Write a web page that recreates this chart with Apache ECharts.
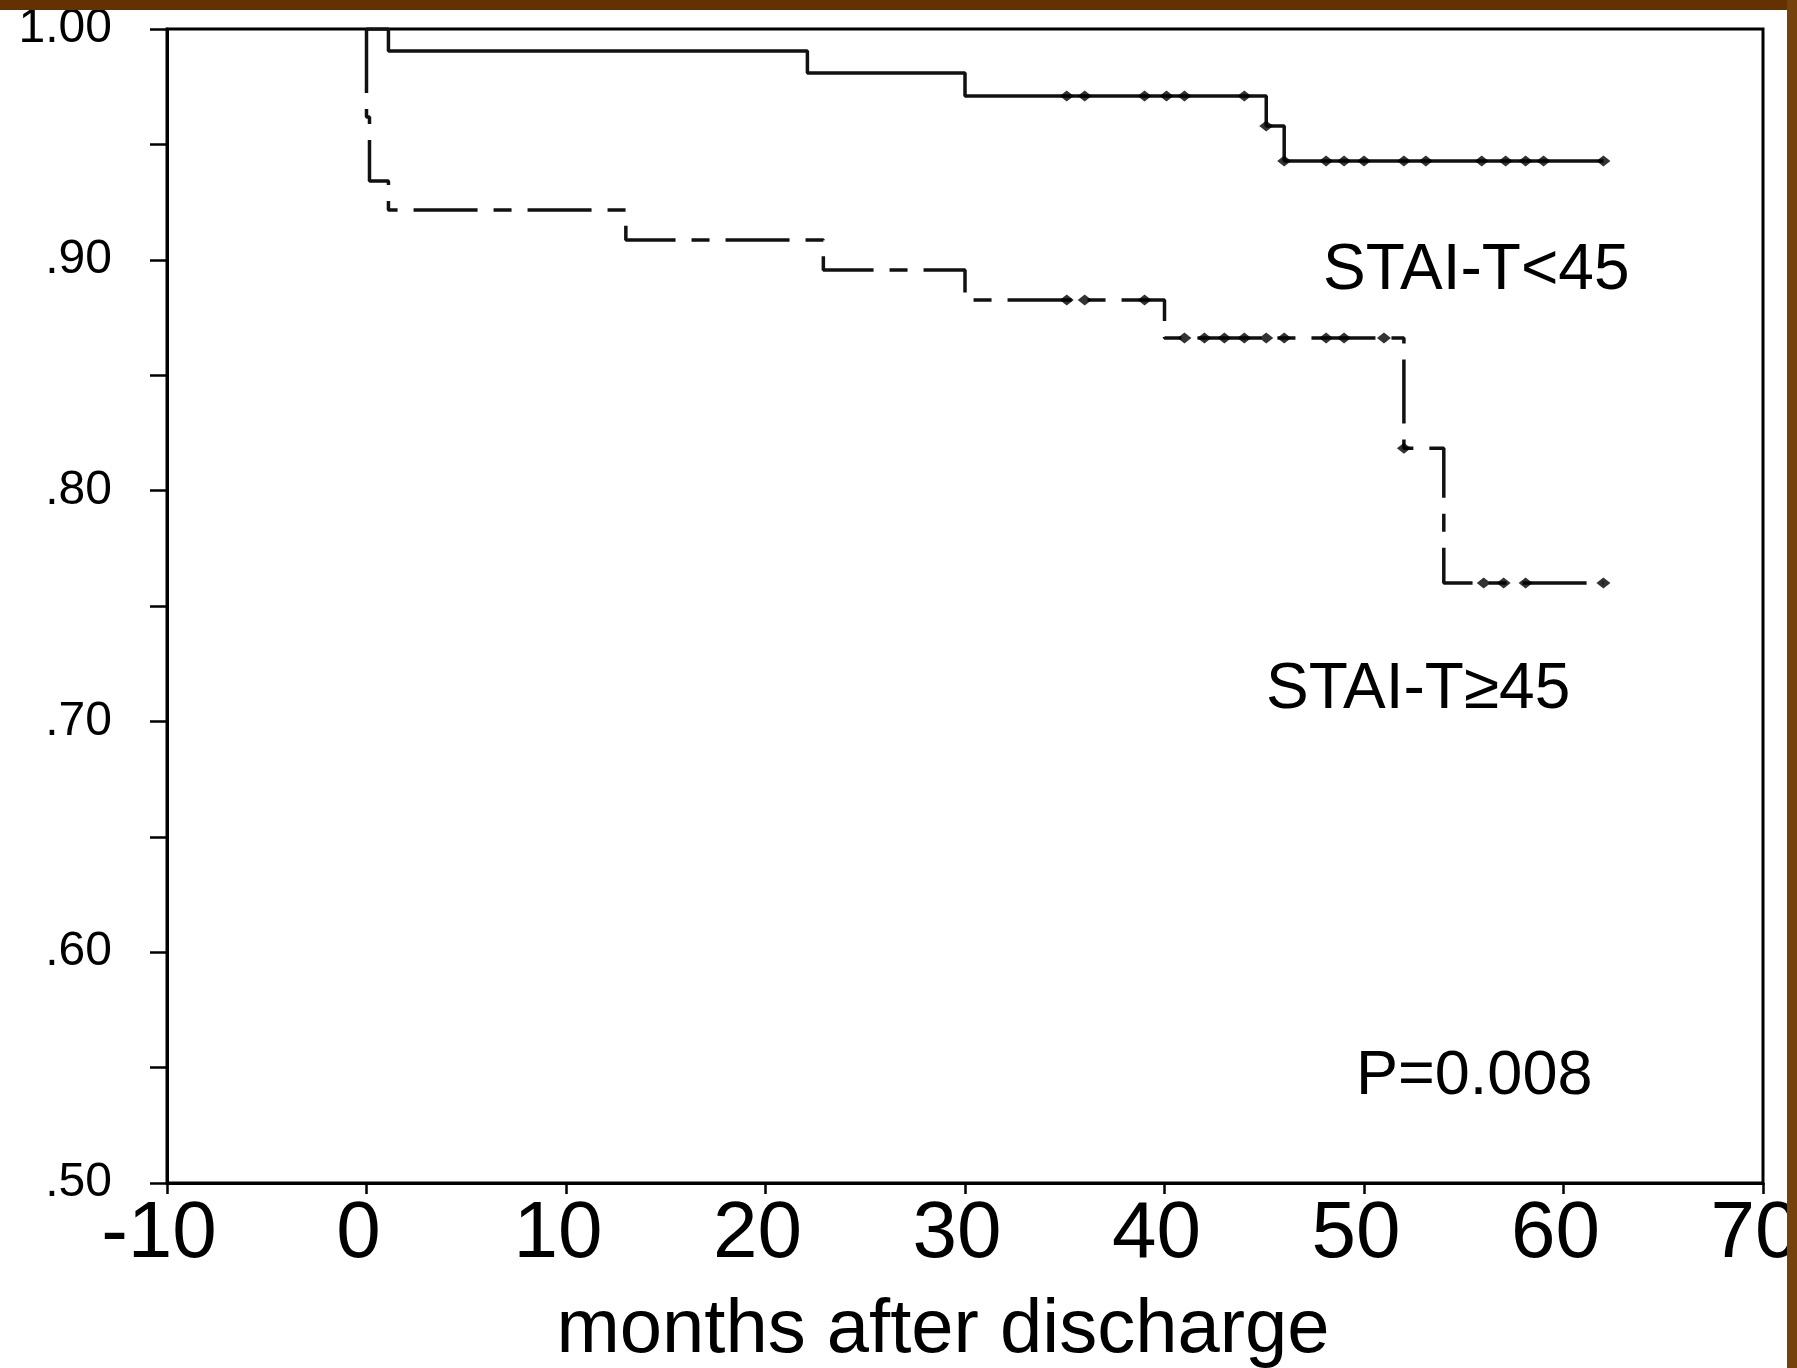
<!DOCTYPE html>
<html>
<head>
<meta charset="utf-8">
<title>STAI-T survival</title>
<script src="https://cdn.jsdelivr.net/npm/echarts@6/dist/echarts.min.js"></script>
<style>
    html, body { margin: 0; padding: 0; background: #fff; }
    #div_chart { width: 1797px; height: 1368px; }
</style>
</head>
<body>
<div id="div_chart"></div>
<script>
!function() {
    "use strict";

    // step curves, time in months / cumulative survival after the step
    var upperTimes = [0, 1.1, 22.1, 30.0, 45.1, 46.0, 62.0];
    var upperSurv = [1.0, 0.9905, 0.9809, 0.9710, 0.9580, 0.9428, 0.9428];
    var upperCensor = [35.1, 36.0, 39.0, 40.1, 41.0, 44.0, 45.1, 46.0, 48.1, 49.0, 50.0, 52.0, 53.1, 55.9, 57.1, 58.1, 59.0, 62.0];

    var lowerTimes = [0, 0, 0.15, 1.1, 13.0, 22.9, 30.0, 40.0, 52.0, 54.0, 62.0];
    var lowerSurv = [1.0, 0.9619, 0.9341, 0.9216, 0.9086, 0.8956, 0.8826, 0.8661, 0.8184, 0.7600, 0.7600];
    var lowerCensor = [35.1, 36.0, 39.0, 41.0, 42.0, 43.0, 44.0, 45.1, 46.0, 48.1, 49.0, 51.0, 52.0, 56.0, 57.0, 58.1, 62.0];

    var xTicks = [-10, 70, 10];
    var yTicks = [0.5, 1.0, 0.05];

    var FONT = '"Liberation Sans", Arial, sans-serif';
    var INK = '#111';

    function Func_Pairs(times, surv) {
        var out = [];
        for (var i = 0; i < times.length; i++) {
            out.push([times[i], surv[i]]);
        }
        return out;
    }

    // censor marks sit on the curve at their time
    function Func_CensorPoints(censor, times, surv) {
        var out = [];
        for (var i = 0; i < censor.length; i++) {
            var v = surv[0];
            for (var j = 0; j < times.length; j++) {
                if (censor[i] >= times[j]) { v = surv[j]; }
            }
            out.push([censor[i], v]);
        }
        return out;
    }

    function Func_Label(text, x, y, size) {
        return {
            type: 'text', x: x, y: y, z: 10,
            style: { text: text, font: size + 'px ' + FONT, fill: '#000',
                     align: 'left', verticalAlign: 'middle', textAlign: 'left', textVerticalAlign: 'middle' }
        };
    }

    var myChart = echarts.init(document.getElementById('div_chart'));

    var option = {
        backgroundColor: '#fff',
        animation: false,
        grid: {
            left: 167, top: 29, right: 34, bottom: 185,
            outerBoundsMode: 'none',
            containLabel: false,
            show: true, borderColor: '#000', borderWidth: 3,
            backgroundColor: 'transparent'
        },
        xAxis: {
            type: 'value',
            min: xTicks[0], max: xTicks[1], interval: xTicks[2],
            name: 'months after discharge',
            nameLocation: 'middle',
            nameGap: 110,
            nameTextStyle: { fontSize: 76, fontFamily: FONT, color: '#000', padding: [0, 44, 0, 0] },
            splitLine: { show: false },
            axisLine: { onZero: false, lineStyle: { color: '#000', width: 3 } },
            axisTick: { length: 11, lineStyle: { color: '#000', width: 2.5 } },
            axisLabel: {
                fontSize: 80, fontFamily: FONT, color: '#000',
                margin: 12, padding: [0, 16, 0, 0]
            }
        },
        yAxis: {
            type: 'value',
            min: yTicks[0], max: yTicks[1], interval: yTicks[2],
            splitLine: { show: false },
            axisLine: { onZero: false, lineStyle: { color: '#000', width: 3 } },
            axisTick: { length: 17, lineStyle: { color: '#000', width: 2.5 } },
            axisLabel: {
                fontSize: 48, fontFamily: FONT, color: '#000', margin: 55,
                formatter: function (v) {
                    var k = Math.round(v * 100);
                    if (k % 10 !== 0) { return ''; }
                    if (k === 100) { return '1.00'; }
                    return '.' + k;
                }
            }
        },
        series: [
            {
                name: 'STAI-T<45',
                type: 'line',
                step: 'end',
                symbol: 'none',
                data: Func_Pairs(upperTimes, upperSurv),
                lineStyle: { color: INK, width: 3.5 },
                z: 3
            },
            {
                name: 'STAI-T≥45',
                type: 'line',
                step: 'end',
                symbol: 'none',
                data: Func_Pairs(lowerTimes, lowerSurv),
                lineStyle: { color: INK, width: 3.5, type: [64, 16, 18, 16] },
                z: 3
            },
            {
                type: 'scatter',
                symbol: 'diamond',
                symbolSize: [14, 11],
                itemStyle: { color: '#000' },
                data: Func_CensorPoints(upperCensor, upperTimes, upperSurv),
                z: 4
            },
            {
                type: 'scatter',
                symbol: 'diamond',
                symbolSize: [14, 11],
                itemStyle: { color: '#000' },
                data: Func_CensorPoints(lowerCensor, lowerTimes, lowerSurv),
                z: 4
            }
        ],
        graphic: [
            Func_Label('STAI-T<45', 1323, 271, 64),
            Func_Label('STAI-T≥45', 1266, 690, 64),
            Func_Label('P=0.008', 1356, 1077, 63),
            // brown slide frame at top and right
            {
                type: 'rect', z: 100,
                shape: { x: 0, y: 0, width: 1797, height: 10 },
                style: { fill: '#633200' }
            },
            {
                type: 'rect', z: 100,
                shape: { x: 1787, y: 0, width: 10, height: 1368 },
                style: { fill: '#74420a' }
            }
        ]
    };

    myChart.setOption(option);

}();
</script>
</body>
</html>
